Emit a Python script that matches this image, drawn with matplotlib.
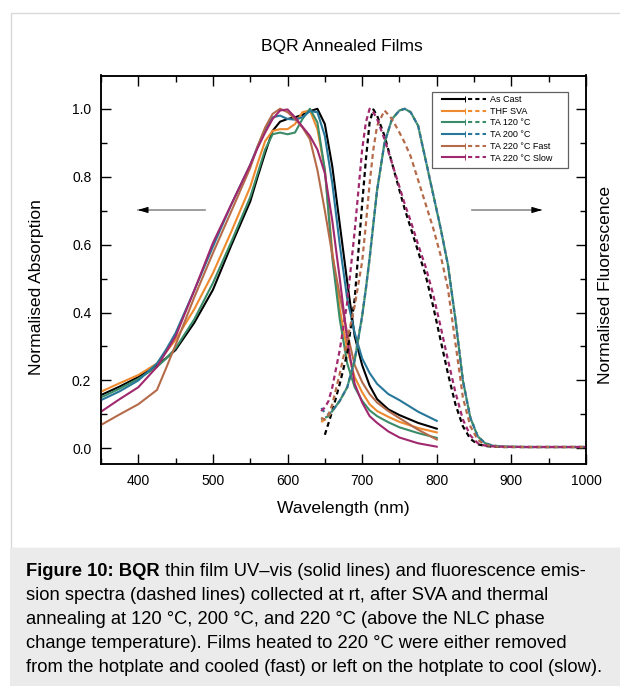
import matplotlib
matplotlib.use('Agg')
import matplotlib.pyplot as plt
from matplotlib.lines import Line2D
from matplotlib.legend_handler import HandlerBase
from matplotlib.patches import Rectangle
from matplotlib.ticker import MultipleLocator, NullFormatter
import numpy as np

plt.rcParams['font.family'] = ['Liberation Sans', 'DejaVu Sans']

# ---------------- data ----------------
series_names = ["As Cast", "THF SVA", "TA 120 °C", "TA 200 °C", "TA 220 °C Fast", "TA 220 °C Slow"]
series_colors = ["#000000", "#ef8a2e", "#3a8c68", "#27779a", "#b56b4a", "#a0286e"]

abs_wl = [350, 375, 400, 425, 437, 450, 475, 500, 525, 550, 560, 570, 580, 590, 600, 610,
          620, 630, 640, 650, 660, 670, 680, 690, 700, 710, 720, 735, 750, 775, 800]

abs_as_cast = [0.157, 0.182, 0.210, 0.245, 0.265, 0.290, 0.370, 0.467, 0.600, 0.727, 0.800, 0.870, 0.935, 0.962, 0.970, 0.975,
               0.982, 0.993, 1.000, 0.955, 0.830, 0.660, 0.490, 0.330, 0.245, 0.185, 0.145, 0.115, 0.098, 0.075, 0.058]
abs_thf_sva = [0.167, 0.192, 0.216, 0.250, 0.283, 0.320, 0.410, 0.516, 0.640, 0.770, 0.840, 0.905, 0.935, 0.940, 0.940, 0.955,
               0.990, 0.995, 0.940, 0.820, 0.580, 0.410, 0.290, 0.210, 0.165, 0.130, 0.110, 0.093, 0.078, 0.060, 0.047]
abs_ta120 = [0.150, 0.176, 0.205, 0.240, 0.264, 0.295, 0.380, 0.487, 0.610, 0.740, 0.810, 0.880, 0.925, 0.930, 0.925, 0.930,
             0.970, 1.000, 0.960, 0.820, 0.560, 0.380, 0.250, 0.180, 0.140, 0.112, 0.095, 0.077, 0.062, 0.045, 0.031]
abs_ta200 = [0.142, 0.168, 0.200, 0.250, 0.290, 0.340, 0.465, 0.594, 0.720, 0.835, 0.890, 0.940, 0.975, 0.980, 0.970, 0.968,
             0.975, 0.993, 0.990, 0.920, 0.780, 0.600, 0.440, 0.340, 0.265, 0.222, 0.190, 0.160, 0.142, 0.108, 0.081]
abs_ta220_fast = [0.069, 0.100, 0.130, 0.172, 0.235, 0.305, 0.445, 0.575, 0.700, 0.826, 0.890, 0.945, 0.985, 1.000, 0.990, 0.970,
                  0.945, 0.910, 0.820, 0.700, 0.570, 0.450, 0.340, 0.245, 0.195, 0.160, 0.135, 0.110, 0.089, 0.055, 0.026]
abs_ta220_slow = [0.108, 0.145, 0.180, 0.240, 0.283, 0.330, 0.465, 0.605, 0.720, 0.835, 0.885, 0.930, 0.970, 0.995, 0.998, 0.975,
                  0.947, 0.920, 0.880, 0.810, 0.670, 0.500, 0.320, 0.190, 0.135, 0.095, 0.075, 0.050, 0.032, 0.015, 0.005]

em_wl = [645, 650, 655, 660, 670, 680, 690, 700, 705, 710, 715, 720, 730, 740, 750, 757, 765, 775, 785,
         795, 805, 815, 825, 835, 845, 855, 865, 875, 890, 920, 950, 1000]

em_as_cast = [np.nan, 0.040, 0.075, 0.110, 0.190, 0.280, 0.440, 0.720, 0.850, 0.960, 0.998, 0.980, 0.920, 0.840, 0.760, 0.705, 0.650,
              0.580, 0.510, 0.420, 0.320, 0.220, 0.130, 0.065, 0.028, 0.012, 0.007, 0.005, 0.004, 0.004, 0.004, 0.004]
em_thf_sva = [0.078, 0.085, 0.095, 0.110, 0.140, 0.180, 0.260, 0.390, 0.470, 0.560, 0.660, 0.760, 0.900, 0.970, 0.995, 1.000, 0.990,
              0.950, 0.850, 0.750, 0.650, 0.540, 0.380, 0.200, 0.090, 0.035, 0.015, 0.008, 0.005, 0.004, 0.004, 0.004]
em_ta120 = [0.085, 0.090, 0.095, 0.110, 0.140, 0.180, 0.260, 0.390, 0.470, 0.560, 0.660, 0.760, 0.900, 0.970, 0.995, 1.000, 0.990,
            0.950, 0.850, 0.750, 0.650, 0.540, 0.380, 0.200, 0.090, 0.035, 0.015, 0.008, 0.005, 0.004, 0.004, 0.004]
em_ta200 = [0.120, 0.105, 0.100, 0.110, 0.140, 0.180, 0.260, 0.390, 0.470, 0.560, 0.660, 0.760, 0.900, 0.970, 0.995, 1.000, 0.990,
            0.950, 0.850, 0.750, 0.650, 0.540, 0.380, 0.200, 0.090, 0.035, 0.015, 0.008, 0.005, 0.004, 0.004, 0.004]
em_ta220_fast = [0.090, 0.085, 0.100, 0.130, 0.220, 0.320, 0.420, 0.550, 0.660, 0.780, 0.880, 0.950, 0.995, 0.970, 0.930, 0.900, 0.860,
                 0.790, 0.720, 0.650, 0.570, 0.470, 0.310, 0.150, 0.065, 0.025, 0.010, 0.006, 0.004, 0.004, 0.004, 0.004]
em_ta220_slow = [0.110, 0.120, 0.140, 0.180, 0.290, 0.430, 0.640, 0.880, 0.960, 1.000, 0.990, 0.970, 0.910, 0.840, 0.770, 0.720, 0.670,
                 0.600, 0.535, 0.455, 0.360, 0.260, 0.165, 0.085, 0.038, 0.015, 0.008, 0.006, 0.005, 0.004, 0.004, 0.004]

abs_series = [abs_as_cast, abs_thf_sva, abs_ta120, abs_ta200, abs_ta220_fast, abs_ta220_slow]
em_series = [em_as_cast, em_thf_sva, em_ta120, em_ta200, em_ta220_fast, em_ta220_slow]

x_ticks = [400, 500, 600, 700, 800, 900, 1000]
y_ticks = [0.0, 0.2, 0.4, 0.6, 0.8, 1.0]

caption_bold = "Figure 10: BQR"
caption_lines = [
    " thin film UV\u2013vis (solid lines) and fluorescence emis-",
    "sion spectra (dashed lines) collected at rt, after SVA and thermal",
    "annealing at 120 \u00b0C, 200 \u00b0C, and 220 \u00b0C (above the NLC phase",
    "change temperature). Films heated to 220 \u00b0C were either removed",
    "from the hotplate and cooled (fast) or left on the hotplate to cool (slow).",
]

# ---------------- figure ----------------
W, H = 620, 686
fig = plt.figure(figsize=(W / 100, H / 100), dpi=100)


def fx(px):
    return px / W


def fy(py):
    return 1 - py / H


fig.add_artist(Rectangle((fx(11), fy(548)), 1.0, fy(13) - fy(548), transform=fig.transFigure,
                         facecolor='white', edgecolor='#d9d9d9', lw=1.0, zorder=-5))
fig.add_artist(Rectangle((fx(10), 0), 1.0, fy(548), transform=fig.transFigure,
                         facecolor='#ebebeb', edgecolor='none', zorder=-5))

AX_L, AX_R, AX_T, AX_B = 101, 586, 75.5, 464
ax = fig.add_axes([fx(AX_L), fy(AX_B), fx(AX_R) - fx(AX_L), fy(AX_T) - fy(AX_B)])
ax.set_zorder(2)
ax.set_xlim(350, 1000)
ax.set_ylim(-0.046, 1.098)


def axfx(px):
    return (px - AX_L) / (AX_R - AX_L)


def axfy(py):
    return (AX_B - py) / (AX_B - AX_T)


dash_offsets = [0, 0, 1.8, 3.6, 0, 0]
for vals, col in zip(abs_series, series_colors):
    ax.plot(abs_wl, vals, color=col, lw=1.5, solid_joinstyle='round')
for vals, col, off in zip(em_series, series_colors, dash_offsets):
    ax.plot(em_wl, vals, color=col, lw=1.6, ls=(off, (2.2, 1.6)))

ax.set_xticks(x_ticks)
ax.xaxis.set_minor_locator(MultipleLocator(50))
ax.set_yticks(y_ticks)
ax.set_yticklabels([f"{v:.1f}" for v in y_ticks])
ax.yaxis.set_minor_locator(MultipleLocator(0.1))
ax.tick_params(which='both', direction='in', top=True, right=False, width=1.0, labelsize=10, pad=7)
ax.tick_params(which='major', length=7.5)
ax.tick_params(which='minor', length=4)
for s in ax.spines.values():
    s.set_linewidth(1.1)

ax2 = ax.twinx()
ax2.set_zorder(1)
ax2.set_ylim(ax.get_ylim())
ax2.set_yticks(y_ticks)
ax2.yaxis.set_minor_locator(MultipleLocator(0.1))
ax2.yaxis.set_major_formatter(NullFormatter())
ax2.tick_params(which='both', direction='in', width=1.0)
ax2.tick_params(which='major', length=7.5)
ax2.tick_params(which='minor', length=4)
for s in ax2.spines.values():
    s.set_linewidth(1.1)
ax.patch.set_alpha(0)

# arrows
arrow_y = 0.702
ax.plot([489, 400], [arrow_y, arrow_y], color='#8c8c8c', lw=1.2)
ax.annotate('', xy=(395.5, arrow_y), xytext=(410, arrow_y),
            arrowprops=dict(arrowstyle='-|>,head_length=0.6,head_width=0.18', color='black', lw=0.8))
ax.plot([847, 940], [arrow_y, arrow_y], color='#8c8c8c', lw=1.2)
ax.annotate('', xy=(945, arrow_y), xytext=(930, arrow_y),
            arrowprops=dict(arrowstyle='-|>,head_length=0.6,head_width=0.18', color='black', lw=0.8))


class SolidDashHandler(HandlerBase):
    def create_artists(self, legend, orig_handle, xdescent, ydescent, width, height, fontsize, trans):
        c = orig_handle.get_color()
        y = height / 2 - ydescent
        x0 = -xdescent
        l1 = Line2D([x0, x0 + width * 0.52], [y, y], color=c, lw=1.5, transform=trans)
        m = Line2D([x0 + width * 0.52], [y], marker='|', ms=4, mew=0.7, color=c, transform=trans)
        l2 = Line2D([x0 + width * 0.58, x0 + width], [y, y], color=c, lw=1.5, ls=(0, (2.0, 1.5)),
                    transform=trans)
        return [l1, m, l2]


# legend frame drawn separately for exact size
ax.add_patch(Rectangle((axfx(432), axfy(168)), axfx(568) - axfx(432), axfy(92) - axfy(168),
                       transform=ax.transAxes, facecolor='white', edgecolor='#606060', lw=0.9, zorder=4))
handles = [Line2D([], [], color=c) for c in series_colors]
leg = ax.legend(handles, series_names, loc='upper left', bbox_to_anchor=(axfx(442), axfy(95)),
                borderaxespad=0, borderpad=0, fontsize=6.5, handlelength=4.9, handletextpad=0.42,
                labelspacing=0.3, frameon=False, handler_map={Line2D: SolidDashHandler()})
leg.set_zorder(5)

# text labels
fig.text(fx(342), fy(47), "BQR Annealed Films", ha='center', va='center', fontsize=12.6)
fig.text(fx(343), fy(509), "Wavelength (nm)", ha='center', va='center', fontsize=12.6)
fig.text(fx(37), fy(287), "Normalised Absorption", ha='center', va='center', rotation=90, fontsize=12.6)
fig.text(fx(605), fy(285), "Normalised Fluorescence", ha='center', va='center', rotation=90, fontsize=12.6)

# caption
cap_fs = 13.2
line_y = [571, 595, 619, 643, 667]
tb = fig.text(fx(26), fy(line_y[0]), caption_bold, ha='left', va='center', fontsize=cap_fs, fontweight='bold')
fig.canvas.draw()
bb = tb.get_window_extent(renderer=fig.canvas.get_renderer())
fig.text(bb.x1 / (fig.dpi * fig.get_figwidth()), fy(line_y[0]), caption_lines[0], ha='left', va='center',
         fontsize=cap_fs)
for ly, txt in zip(line_y[1:], caption_lines[1:]):
    fig.text(fx(26), fy(ly), txt, ha='left', va='center', fontsize=cap_fs)

fig.savefig('out.png', dpi=100)
